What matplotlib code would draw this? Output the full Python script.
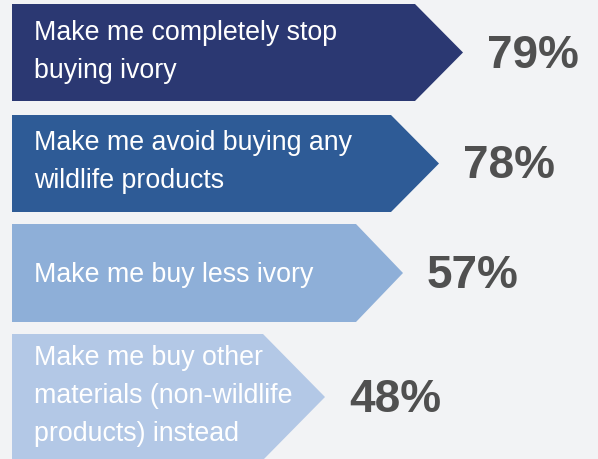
import matplotlib.pyplot as plt
from matplotlib.patches import Polygon

# survey answers and their shares
labels = [
    "Make me completely stop\nbuying ivory",
    "Make me avoid buying any\nwildlife products",
    "Make me buy less ivory",
    "Make me buy other\nmaterials (non-wildlife\nproducts) instead",
]
values = [79, 78, 57, 48]

# infographic layout (pixels)
body_ends = [415, 391, 356, 263]
tip_ends = [463, 439, 403, 325]
tops = [4, 115, 224, 334]
bottoms = [101, 212, 322, 460]
colors = ["#2b3872", "#2e5b96", "#8eafd8", "#b3c8e6"]
bg = "#f2f3f5"

fig = plt.figure(figsize=(5.98, 4.59), dpi=100, facecolor=bg)
ax = fig.add_axes([0, 0, 1, 1])
ax.set_facecolor(bg)
ax.set_xlim(0, 598)
ax.set_ylim(459, 0)
ax.axis("off")

for lab, val, be, te, t, b, c in zip(labels, values, body_ends, tip_ends, tops, bottoms, colors):
    mid = (t + b) / 2
    pts = [(12, t), (be, t), (te, mid), (be, b), (12, b)]
    ax.add_patch(Polygon(pts, closed=True, facecolor=c, edgecolor="none"))
    dy = 2 if "\n" not in lab else -1
    ax.text(34, mid + dy, lab, color="white", fontsize=19.3, family="Liberation Sans",
            va="center", ha="left", linespacing=1.6)
    ax.text(te + 24, mid + 3, f"{val}%", color="#505050", fontsize=33,
            family="Liberation Sans", fontweight="bold", va="center", ha="left")

fig.savefig("out.png", dpi=100, facecolor=bg)
